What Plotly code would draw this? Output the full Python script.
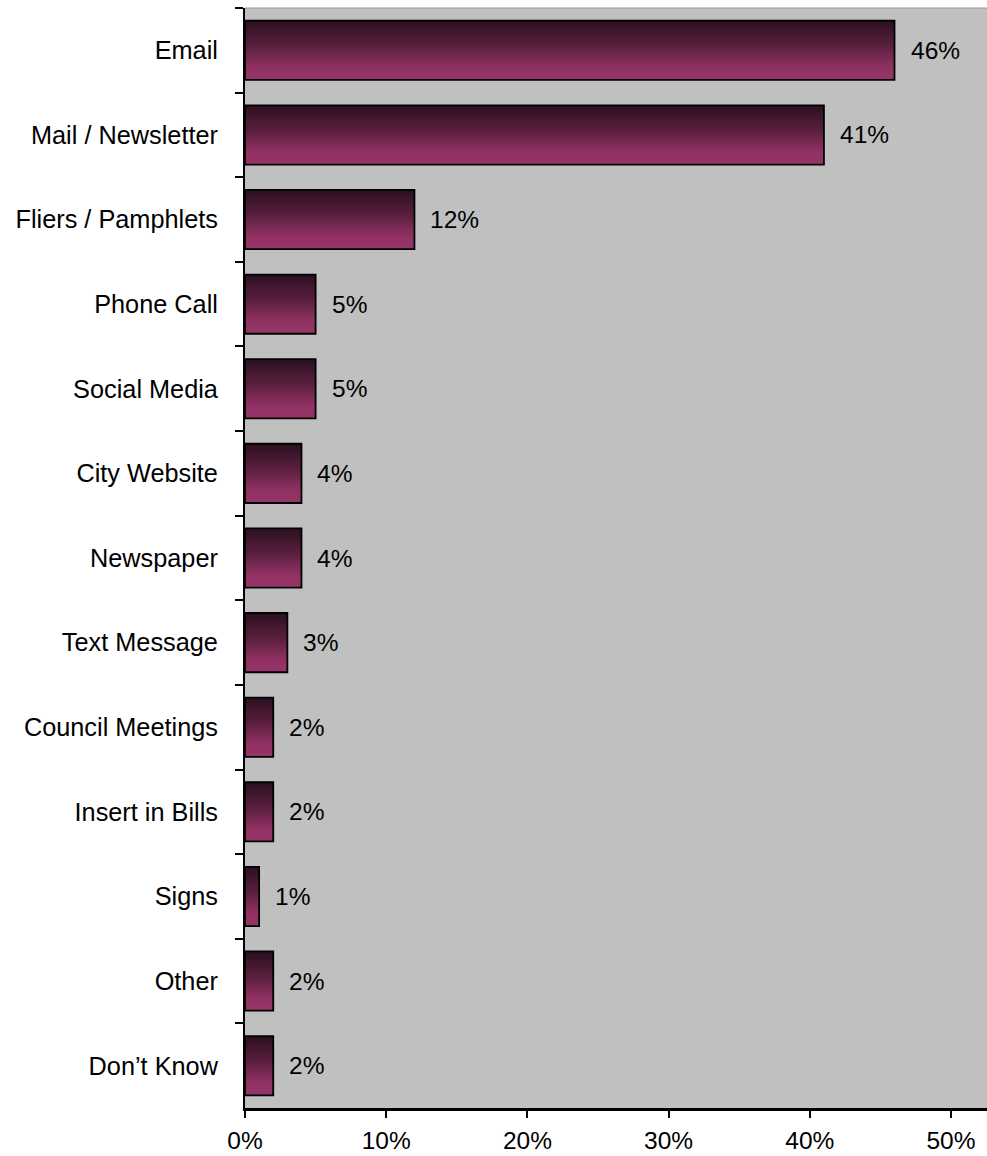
import plotly.graph_objects as go

# Survey: preferred ways of receiving city information (share of respondents, %)
categories = [
    "Email", "Mail / Newsletter", "Fliers / Pamphlets", "Phone Call",
    "Social Media", "City Website", "Newspaper", "Text Message",
    "Council Meetings", "Insert in Bills", "Signs", "Other", "Don\u2019t Know",
]
shares = [46, 41, 12, 5, 5, 4, 4, 3, 2, 2, 1, 2, 2]
value_labels = ["46%", "41%", "12%", "5%", "5%", "4%", "4%", "3%", "2%", "2%", "1%", "2%", "2%"]
x_ticks = [0, 10, 20, 30, 40, 50]
x_tick_labels = ["0%", "10%", "20%", "30%", "40%", "50%"]

FONT = "Liberation Sans, Arial, sans-serif"
BAR_W = 0.70
N_STRIPS = 28

# vertical shading of each bar: dark plum at the top edge to magenta lower down
stops = [(0.0, (0x2a, 0x10, 0x20)), (0.45, (0x5e, 0x20, 0x40)),
         (0.78, (0x90, 0x32, 0x63)), (1.0, (0x97, 0x34, 0x67))]


def shade(t):
    for (t0, c0), (t1, c1) in zip(stops, stops[1:]):
        if t <= t1:
            f = (t - t0) / (t1 - t0) if t1 > t0 else 0
            return "rgb(%d,%d,%d)" % tuple(round(a + (b - a) * f) for a, b in zip(c0, c1))
    return "rgb(%d,%d,%d)" % stops[-1][1]


fig = go.Figure()
step = BAR_W / N_STRIPS
for k in range(N_STRIPS):
    off = -BAR_W / 2 + k * step
    w = step * 1.5 if k < N_STRIPS - 1 else step
    fig.add_trace(go.Bar(
        x=shares, y=categories, orientation="h",
        offset=off, width=w,
        marker=dict(color=shade((k + 0.5) / N_STRIPS), line=dict(width=0)),
        showlegend=False, hoverinfo="skip",
    ))

# black outline over the shaded strips
fig.add_trace(go.Bar(
    x=shares, y=categories, orientation="h",
    offset=-BAR_W / 2, width=BAR_W,
    marker=dict(color="rgba(0,0,0,0)", line=dict(color="black", width=1.8)),
    showlegend=False, hovertemplate="%{y}: %{x}%<extra></extra>",
))

for cat, v, lab in zip(categories, shares, value_labels):
    fig.add_annotation(x=v, y=cat, text=lab, showarrow=False,
                       xanchor="left", yanchor="middle", xshift=14,
                       font=dict(family=FONT, size=24.5, color="black"))

# thin grey rim along the top of the plotting area
fig.add_shape(type="line", xref="paper", yref="paper", x0=0, x1=1, y0=1, y1=1,
              line=dict(color="#9a9a9a", width=1))

fig.update_layout(
    width=987, height=1156,
    margin=dict(l=245, r=0, t=8, b=48),
    paper_bgcolor="white", plot_bgcolor="#c0c0c0",
    barmode="overlay",
    font=dict(family=FONT, size=24.5, color="black"),
    xaxis=dict(range=[0, 52.55], tickvals=x_ticks, ticktext=x_tick_labels,
               showgrid=False, zeroline=False,
               showline=True, linecolor="black", linewidth=3,
               ticks="outside", ticklen=7, tickwidth=2, tickcolor="black",
               ticklabelstandoff=2,
               tickfont=dict(family=FONT, size=24.5, color="black")),
    yaxis=dict(autorange="reversed", type="category",
               showgrid=False, zeroline=False,
               showline=True, linecolor="black", linewidth=2,
               ticks="outside", ticklen=8, tickwidth=2, tickcolor="black",
               tickson="boundaries", ticklabelstandoff=20,
               tickfont=dict(family=FONT, size=25.3, color="black")),
)

fig.write_html("out.html")
